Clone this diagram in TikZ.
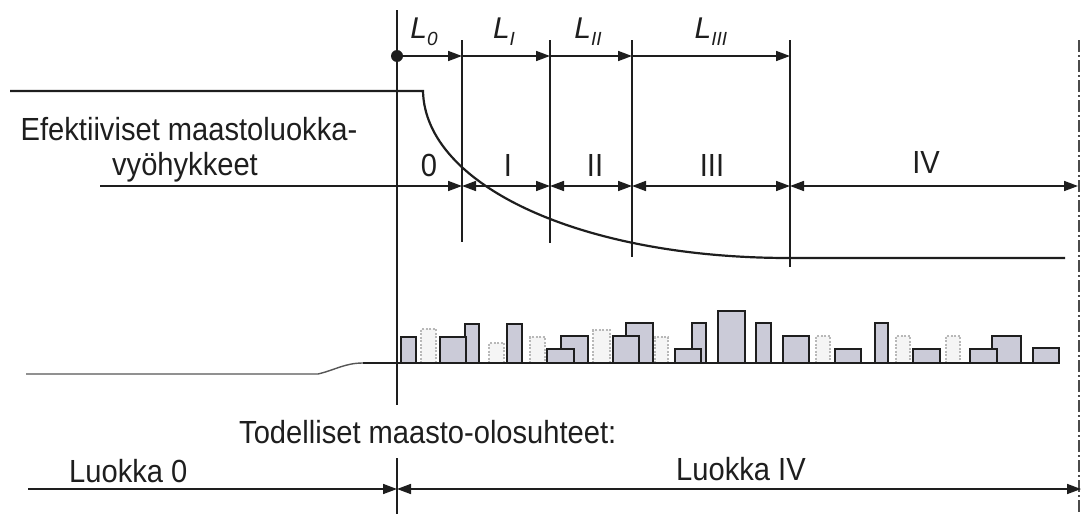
\documentclass[tikz,border=0pt]{standalone}
\usepackage{fontspec}
\setmainfont{Liberation Sans}
\usetikzlibrary{arrows.meta}
\definecolor{bargray}{HTML}{CBCBD8}
\definecolor{ink}{HTML}{1E1E1E}
\newcommand{\Lsub}[1]{\textit{L}\raisebox{-7pt}{\fontsize{19}{19}\selectfont\itshape #1}}
\newcommand{\narrow}[1]{\scalebox{0.91}[1]{#1}}
\begin{document}
\begin{tikzpicture}[x=1pt,y=-1pt,
  txt/.style={font=\fontsize{32}{32}\selectfont, inner sep=0pt, text=ink},
  lab/.style={font=\fontsize{30}{30}\selectfont, inner sep=0pt, text=ink},
  tip/.tip={Triangle[length=14pt,width=10pt]},
  dimarrow/.style={draw=ink, line width=1.6pt, -tip},
  ddimarrow/.style={draw=ink, line width=1.6pt, tip-tip},
  guide/.style={draw=ink, line width=1.7pt},
  mainline/.style={draw=ink, line width=2pt},
  bar/.style={draw=ink, line width=1.8pt, fill=bargray},
  ghost/.style={draw=black!28, line width=1.2pt, dash pattern=on 2pt off 1.5pt, fill=black!4},
]
\useasboundingbox (0,0) rectangle (1085,514);

% ---- reference points ----
\coordinate (mTop) at (397,10);
\coordinate (mTxtA) at (397,405);
\coordinate (mTxtB) at (397,458);
\coordinate (mBot) at (397,514);
\coordinate (dot) at (397,56);
\foreach \n/\x/\b in {1/462/242, 2/550/243, 3/632/257, 4/790/267}{
  \coordinate (b\n t) at (\x,40);
  \coordinate (b\n b) at (\x,\b);
  \coordinate (b\n u) at (\x,56);
  \coordinate (b\n m) at (\x,186);
}
\coordinate (edgeT) at (1079,40);
\coordinate (edgeB) at (1079,514);
\coordinate (edgeM) at (1078,186);
\coordinate (effStart) at (100,186);

% ---- main vertical and zone borders ----
\draw[mainline] (mTop) -- (mTxtA);
\draw[mainline] (mTxtB) -- (mBot);
\foreach \n in {1,2,3,4}{ \draw[guide] (b\n t) -- (b\n b); }
\draw[draw=ink!80, line width=1.6pt, dash pattern=on 12pt off 3pt on 2pt off 3pt] (edgeT) -- (edgeB);
\fill[ink] (dot) circle (6pt);

% ---- upstream lengths L0 ... LIII ----
\draw[dimarrow] (dot) -- (b1u);
\draw[dimarrow] (b1u) -- (b2u);
\draw[dimarrow] (b2u) -- (b3u);
\draw[dimarrow] (b3u) -- (b4u);
\node[lab] (l0) at (424,32) {\Lsub{0}};
\node[lab] (l1) at (504,32) {\Lsub{I}};
\node[lab] (l2) at (588,32) {\Lsub{II}};
\node[lab] (l3) at (711,32) {\Lsub{III}};

% ---- effective terrain category zones ----
\draw[dimarrow] (effStart) -- (b1m);
\draw[ddimarrow] (b1m) -- (b2m);
\draw[ddimarrow] (b2m) -- (b3m);
\draw[ddimarrow] (b3m) -- (b4m);
\draw[ddimarrow] (b4m) -- (edgeM);
\node[txt] (efe) at (189,129) {\narrow{Efektiiviset maastoluokka-}};
\node[txt] (vyo) at (185,167) {\narrow{vyöhykkeet}};
\node[txt] (z0) at (429,165) {\narrow{0}};
\node[txt] (z1) at (508,165) {\narrow{I}};
\node[txt] (z2) at (595,165) {\narrow{II}};
\node[txt] (z3) at (712,165) {\narrow{III}};
\node[txt] (z4) at (926,162) {\narrow{IV}};

% ---- wind profile (roughness transition) ----
\coordinate (pStart) at (10,91);
\coordinate (pKnee) at (423,91);
\coordinate (pFlat) at (789,258);
\coordinate (pEnd) at (1065,258);
\draw[draw=ink, line width=2.2pt] (pStart) -- (pKnee)
  .. controls (425,185) and (580,258) .. (pFlat) -- (pEnd);

% ---- ground and buildings ----
\coordinate (gStart) at (26,374);
\coordinate (gBend) at (318,374);
\coordinate (gRise) at (363,363);
\coordinate (gEnd) at (1060,363);
\draw[draw=ink!75, line width=1.4pt] (gStart) -- (gBend) .. controls (335,370) and (345,363) .. (gRise);
% faint background buildings
\foreach \a/\b/\h in {421/436/329, 489/504/343, 530/545/337, 593/610/330, 655/668/337,
                      816/830/336, 896/910/336, 946/960/336}{
  \draw[ghost] (\a,363) rectangle (\b,\h);
}
% foreground buildings (taller ones first where they overlap)
\foreach \a/\b/\h in {401/416/337, 465/479/324, 440/466/337, 507/522/324,
                      561/588/336, 547/574/349, 626/653/323, 613/639/336,
                      692/706/323, 675/701/349, 718/745/311, 756/771/323,
                      783/809/336, 835/861/349, 875/888/323, 913/940/349,
                      992/1021/336, 970/997/349, 1033/1059/348}{
  \draw[bar] (\a,363) rectangle (\b,\h);
}
\draw[draw=ink, line width=2.2pt] (gRise) -- (gEnd);

% ---- actual terrain ----
\coordinate (aStart) at (28,489);
\coordinate (aMid) at (397,489);
\coordinate (aEnd) at (1081,489);
\draw[dimarrow] (aStart) -- (aMid);
\draw[ddimarrow] (aMid) -- (aEnd);
\node[txt, anchor=west] (tod) at (239,432) {\narrow{Todelliset maasto-olosuhteet:}};
\node[txt, anchor=west] (lk0) at (69,471) {\narrow{Luokka 0}};
\node[txt, anchor=west] (lk4) at (676,469) {\narrow{Luokka IV}};
\end{tikzpicture}
\end{document}
